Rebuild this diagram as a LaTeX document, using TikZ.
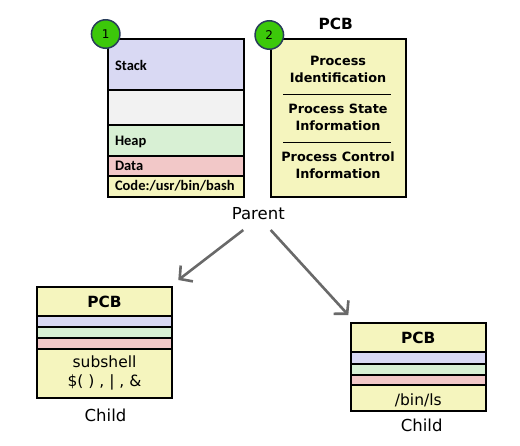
\documentclass[tikz,border=0pt]{standalone}
\usepackage{fontspec}
\setmainfont{DejaVu Sans}
\newfontfamily\calibfont{Carlito}
\usepackage{xcolor}
\usepackage{tikz}
\usetikzlibrary{arrows.meta}

\definecolor{stackblue}{RGB}{217,217,243}
\definecolor{freegrey}{RGB}{242,242,242}
\definecolor{heapgreen}{RGB}{216,240,212}
\definecolor{datared}{RGB}{242,200,200}
\definecolor{codeyellow}{RGB}{245,245,190}
\definecolor{circgreen}{RGB}{60,200,10}
\definecolor{circedge}{RGB}{40,60,90}
\definecolor{arrowgrey}{RGB}{105,105,105}

\begin{document}
\begin{tikzpicture}[x=1pt,y=-1pt,line width=2pt,
	memtext/.style={right,inner sep=0pt,font=\calibfont\bfseries\fontsize{14.5}{16}\selectfont},
	pcbtext/.style={align=center,inner sep=0pt,font=\bfseries\fontsize{12.8}{17}\selectfont},
	pcbtitle/.style={inner sep=0pt,font=\bfseries\fontsize{15.4}{18}\selectfont},
	plaintext/.style={inner sep=0pt,font=\fontsize{15.5}{19.4}\selectfont,align=center},
	roletext/.style={inner sep=0pt,font=\fontsize{16.5}{19}\selectfont},
	numcirc/.style={circle,draw=circedge,fill=circgreen,line width=1.5pt,minimum size=28.5pt,inner sep=0pt,font=\fontsize{12}{14}\selectfont},
	forkarrow/.style={draw=arrowgrey,line width=2.6pt,-{Straight Barb[length=9pt,width=20pt]}}]
	
	\useasboundingbox (0,0) rectangle (520,445);
	
	% parent memory layout
	\filldraw [fill=stackblue] (107.5,39) rectangle (243.5,90);
	\filldraw [fill=freegrey] (107.5,90) rectangle (243.5,125);
	\filldraw [fill=heapgreen] (107.5,125) rectangle (243.5,155.7);
	\filldraw [fill=datared] (107.5,155.7) rectangle (243.5,175.7);
	\filldraw [fill=codeyellow] (107.5,175.7) rectangle (243.5,196.7);
	
	\node [memtext] (stack) at (114,65) {Stack};
	\node [memtext] (heap) at (114,141.7) {Heap};
	\node [memtext] (data) at (114,166) {Data};
	\node [memtext] (code) at (114,185.5) {Code:/usr/bin/bash};
	
	\node [numcirc] (one) at (105.7,34) {1};
	
	% parent PCB
	\filldraw [fill=codeyellow] (270.7,39) rectangle (406,196.7);
	\node [pcbtitle] (pcb) at (335.7,24) {PCB};
	
	\node [pcbtext] (ident) at (338,69.2) {Process\\Identification};
	\draw [line width=0.8pt] (283,94.3) -- (390.7,94.3);
	\node [pcbtext] (state) at (338,117.3) {Process State\\Information};
	\draw [line width=0.8pt] (283,142.3) -- (390.7,142.3);
	\node [pcbtext] (control) at (338,165.7) {Process Control\\Information};
	
	\node [numcirc] (two) at (269.3,35) {2};
	
	\node [roletext] (parent) at (258.3,213.3) {Parent};
	
	% fork arrows
	\coordinate (leftstart) at (243.3,230);
	\coordinate (leftend) at (178.3,280);
	\coordinate (rightstart) at (270.7,230);
	\coordinate (rightend) at (348.3,315);
	\draw [forkarrow] (leftstart) -- (leftend);
	\draw [forkarrow] (rightstart) -- (rightend);
	
	% child: subshell
	\filldraw [fill=codeyellow] (36.7,286.7) rectangle (172.3,316);
	\filldraw [fill=stackblue] (36.7,316) rectangle (172.3,327.3);
	\filldraw [fill=heapgreen] (36.7,327.3) rectangle (172.3,338.3);
	\filldraw [fill=datared] (36.7,338.3) rectangle (172.3,349.3);
	\filldraw [fill=codeyellow] (36.7,349.3) rectangle (172.3,398.3);
	
	\node [pcbtitle] (leftpcb) at (104.5,301.5) {PCB};
	\node [plaintext] (subshell) at (104.5,373) {subshell\\\$( ) , | , \&};
	\node [roletext] (leftchild) at (105.5,415) {Child};
	
	% child: exec
	\filldraw [fill=codeyellow] (350.7,322.7) rectangle (486,352.3);
	\filldraw [fill=stackblue] (350.7,352.3) rectangle (486,364);
	\filldraw [fill=heapgreen] (350.7,364) rectangle (486,375);
	\filldraw [fill=datared] (350.7,375) rectangle (486,385);
	\filldraw [fill=codeyellow] (350.7,385) rectangle (486,410.7);
	
	\node [pcbtitle] (rightpcb) at (418.3,338) {PCB};
	\node [plaintext] (binls) at (418.3,400) {/bin/ls};
	\node [roletext] (rightchild) at (421.7,425) {Child};
	
\end{tikzpicture}
\end{document}
